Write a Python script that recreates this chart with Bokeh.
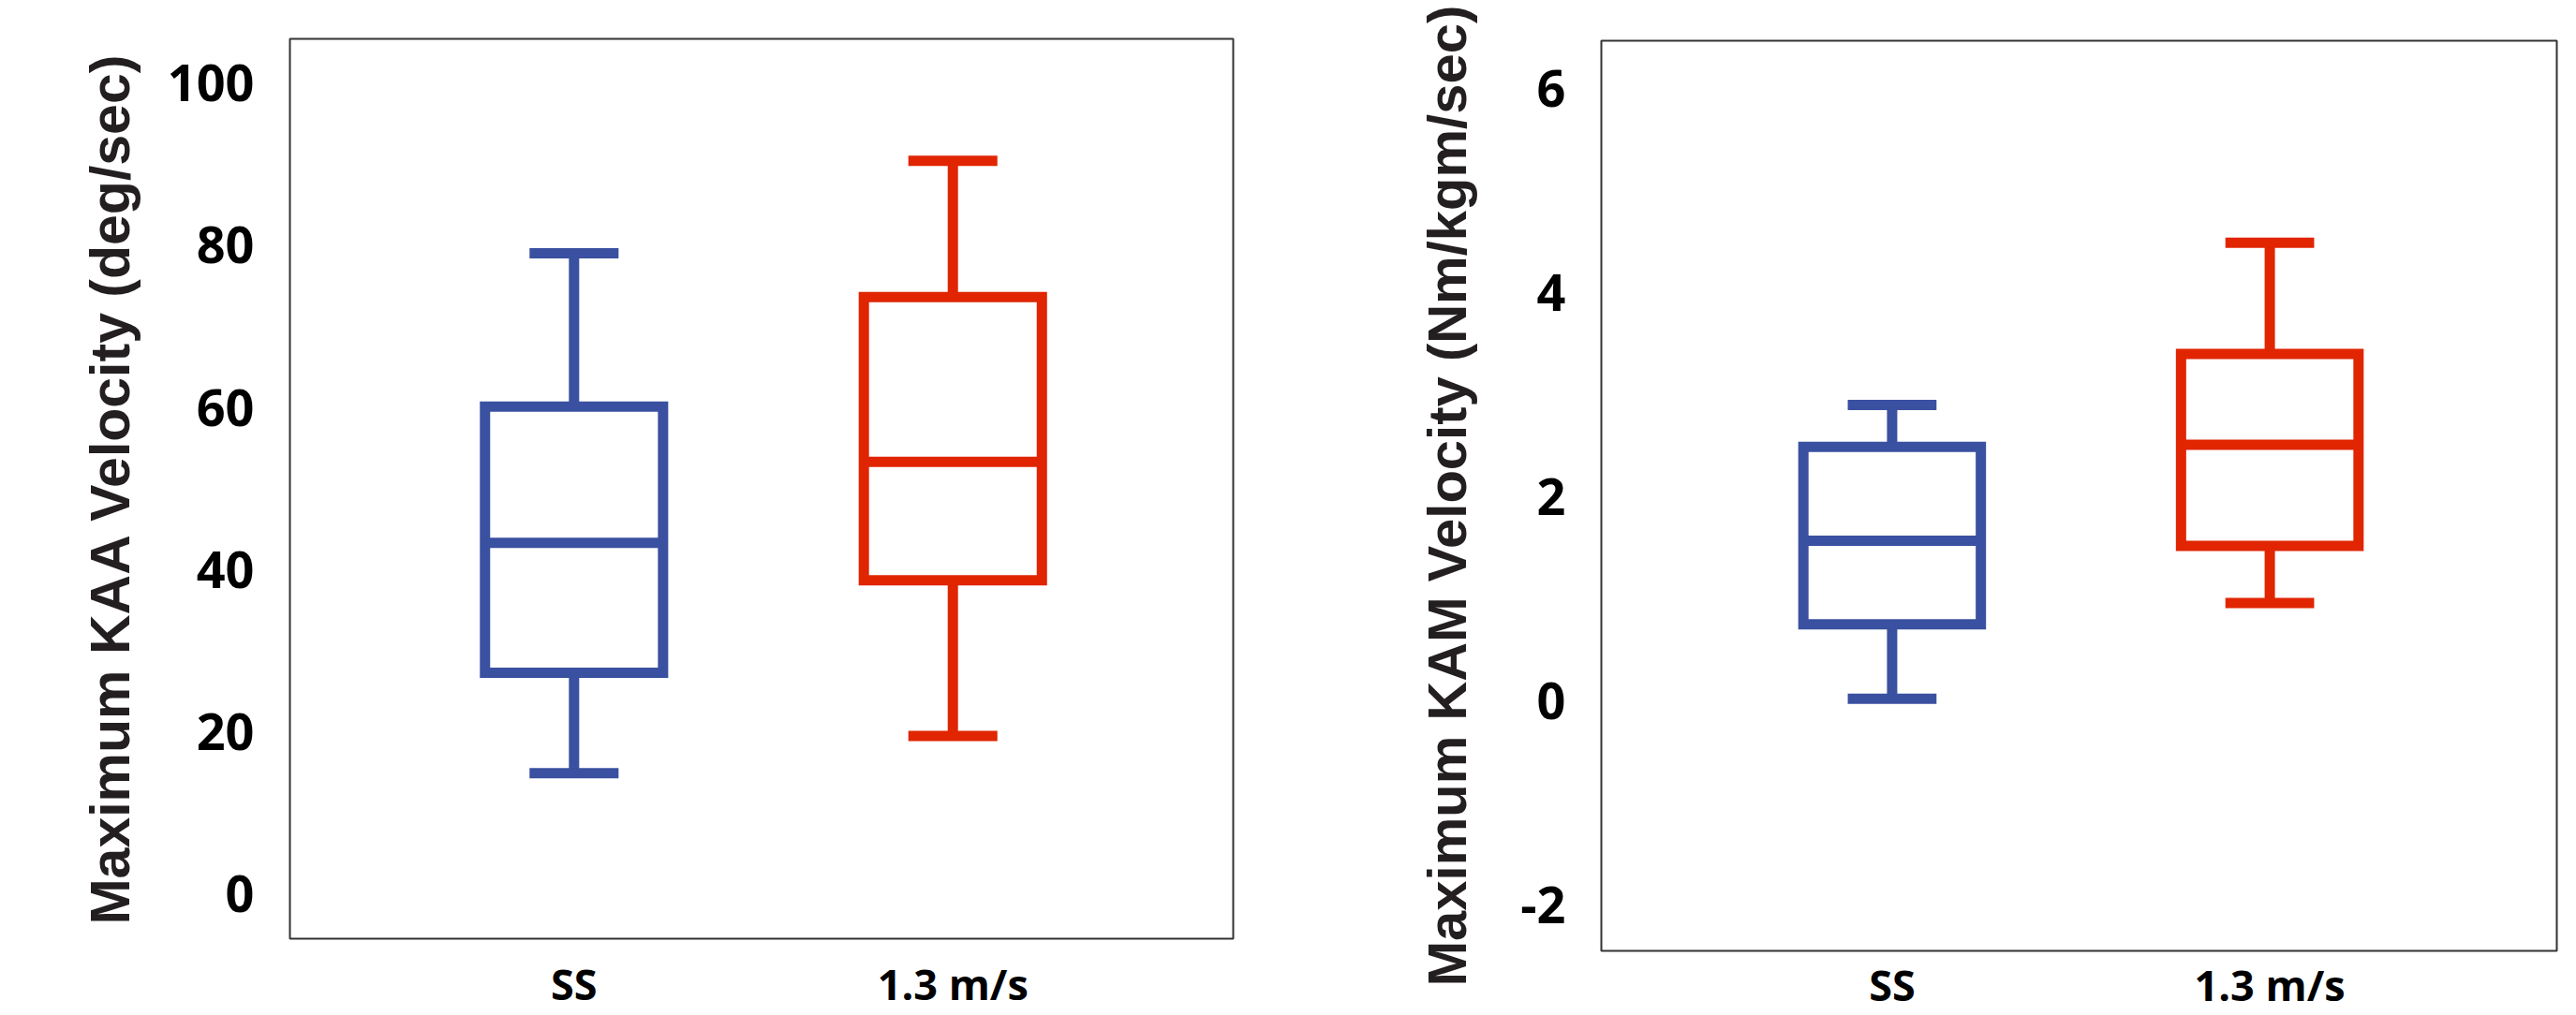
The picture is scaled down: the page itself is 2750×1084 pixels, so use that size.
from bokeh.plotting import figure
from bokeh.models import Range1d, FixedTicker, ColumnDataSource, PrintfTickFormatter
from bokeh.layouts import row, column
from bokeh.embed import file_html
from bokeh.resources import INLINE

# ---------------- data ----------------
categories = ["SS", "1.3 m/s"]
colors = ["#3A50A0", "#E02500"]

kaa_min = [14.9, 19.5]
kaa_q1 = [27.3, 38.7]
kaa_median = [43.3, 53.3]
kaa_q3 = [60.1, 73.6]
kaa_max = [79.0, 90.4]
kaa_ticks = [0, 20, 40, 60, 80, 100]

kam_min = [0.02, 0.96]
kam_q1 = [0.75, 1.52]
kam_median = [1.57, 2.51]
kam_q3 = [2.49, 3.40]
kam_max = [2.90, 4.49]
kam_ticks = [-2, 0, 2, 4, 6]

BOX_W = 0.47
CAP_W = 0.235
LW = 11


def make_panel(title, lo, q1, med, q3, hi, ticks, x_range, y_range,
               width, height, mb_left, mb_right, mb_top, mb_bottom,
               title_standoff, title_size, x_standoff):
    p = figure(width=width, height=height, x_range=Range1d(*x_range),
               y_range=Range1d(*y_range), output_backend="svg",
               toolbar_location=None, min_border_left=mb_left,
               min_border_right=mb_right, min_border_top=mb_top,
               min_border_bottom=mb_bottom, background_fill_color="white",
               border_fill_color="white")
    xs = [i + 1 for i in range(len(categories))]
    src = ColumnDataSource(dict(
        x=xs, lo=lo, q1=q1, med=med, q3=q3, hi=hi, color=colors,
        bx0=[x - BOX_W / 2 for x in xs], bx1=[x + BOX_W / 2 for x in xs],
        cx0=[x - CAP_W / 2 for x in xs], cx1=[x + CAP_W / 2 for x in xs],
    ))
    # whiskers
    p.segment(x0="x", y0="q3", x1="x", y1="hi", source=src, line_color="color",
              line_width=LW, line_cap="butt")
    p.segment(x0="x", y0="q1", x1="x", y1="lo", source=src, line_color="color",
              line_width=LW, line_cap="butt")
    # caps
    p.segment(x0="cx0", y0="hi", x1="cx1", y1="hi", source=src, line_color="color",
              line_width=LW, line_cap="butt")
    p.segment(x0="cx0", y0="lo", x1="cx1", y1="lo", source=src, line_color="color",
              line_width=LW, line_cap="butt")
    # box
    p.vbar(x="x", width=BOX_W, bottom="q1", top="q3", source=src,
           fill_color="white", line_color="color", line_width=LW, line_join="miter")
    # median
    p.segment(x0="bx0", y0="med", x1="bx1", y1="med", source=src, line_color="color",
              line_width=LW, line_cap="butt")

    p.xgrid.visible = False
    p.ygrid.visible = False
    p.outline_line_color = "#333333"
    p.outline_line_width = 2

    p.xaxis.ticker = FixedTicker(ticks=xs)
    p.xaxis.major_label_overrides = {x: c for x, c in zip(xs, categories)}
    p.yaxis.ticker = FixedTicker(ticks=ticks)
    p.yaxis.formatter = PrintfTickFormatter(format="%d")
    for ax in (p.xaxis[0], p.yaxis[0]):
        ax.axis_line_color = None
        ax.major_tick_line_color = None
        ax.minor_tick_line_color = None
        ax.major_tick_out = 0
        ax.major_tick_in = 0
        ax.minor_tick_out = 0
    p.xaxis.major_label_text_font = "Open Sans"
    p.xaxis.major_label_text_font_style = "bold"
    p.xaxis.major_label_text_font_size = "45px"
    p.xaxis.major_label_text_color = "black"
    p.xaxis.major_label_standoff = x_standoff

    p.yaxis.major_label_text_font = "Open Sans"
    p.yaxis.major_label_text_font_style = "bold"
    p.yaxis.major_label_text_font_size = "54px"
    p.yaxis.major_label_text_color = "black"
    p.yaxis.major_label_standoff = 38

    p.yaxis.axis_label = title
    p.yaxis.axis_label_text_font = "Liberation Sans"
    p.yaxis.axis_label_text_font_style = "bold"
    p.yaxis.axis_label_text_font_size = title_size
    p.yaxis.axis_label_text_color = "#231f20"
    p.yaxis.axis_label_standoff = title_standoff
    return p


left = make_panel("Maximum KAA Velocity (deg/sec)", kaa_min, kaa_q1, kaa_median,
                  kaa_q3, kaa_max, kaa_ticks, (0.25, 2.74), (-5.5, 105.45),
                  width=1400, height=1084, mb_left=309, mb_right=84, mb_top=41,
                  mb_bottom=82, title_standoff=25, title_size="59px", x_standoff=17)
right = make_panel("Maximum KAM Velocity (Nm/kgm/sec)", kam_min, kam_q1, kam_median,
                   kam_q3, kam_max, kam_ticks, (0.23, 2.76), (-2.45, 6.47),
                   width=1350, height=1084, mb_left=309, mb_right=21, mb_top=43,
                   mb_bottom=67, title_standoff=43, title_size="58px", x_standoff=5)

layout = row(column(left), column(right), spacing=0)

open("out.html", "w").write(file_html(layout, INLINE))
